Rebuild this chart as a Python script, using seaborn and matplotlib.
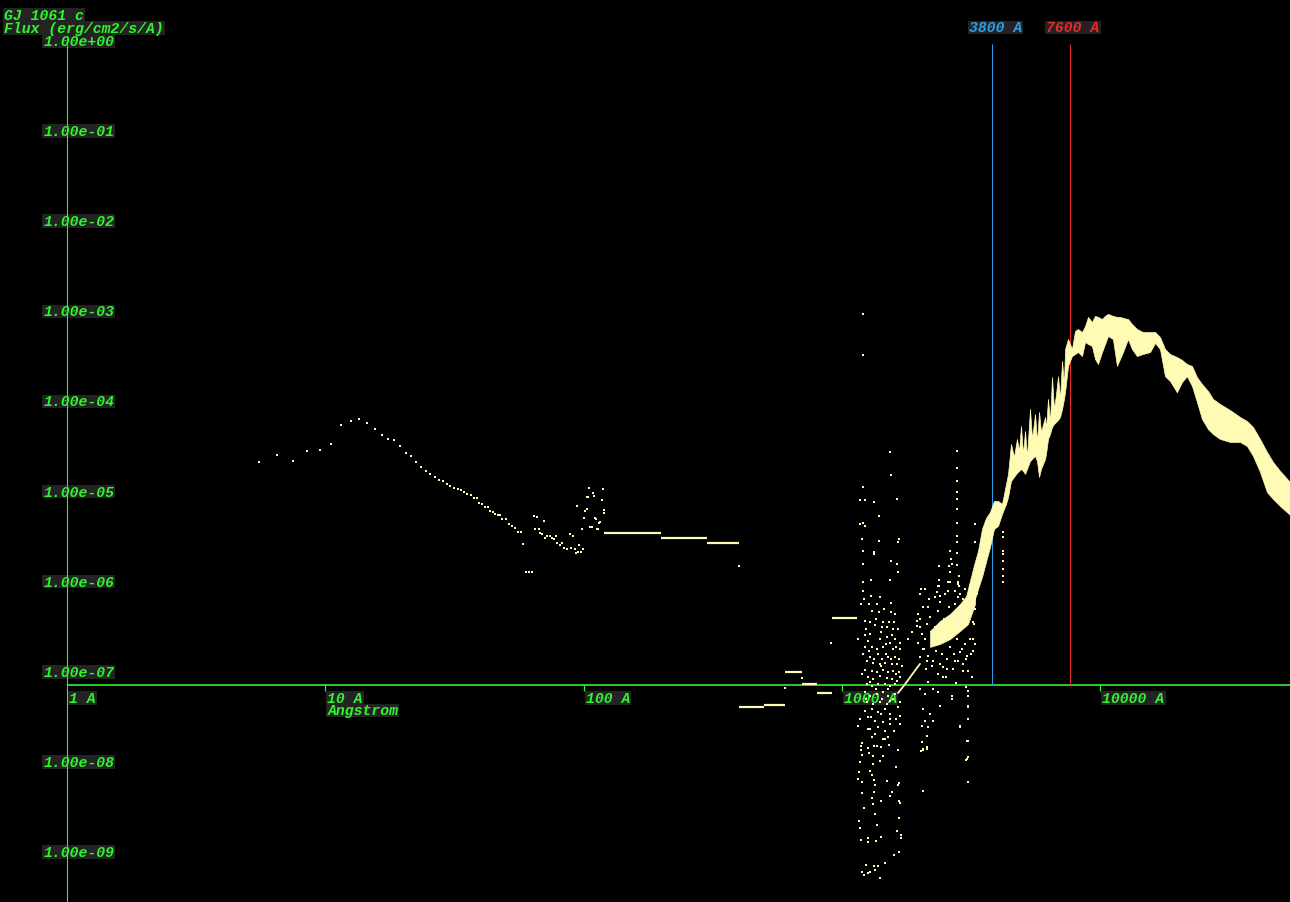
import matplotlib
matplotlib.use('Agg')
import matplotlib.pyplot as plt
from matplotlib.patches import Rectangle
from matplotlib.transforms import IdentityTransform
import seaborn as sns

# ---- data (wavelength in Angstrom, flux in erg/cm2/s/A) ----
xray_wave = [5.54, 6.50, 7.49, 8.49, 9.54, 10.5, 11.5, 12.6, 13.5, 14.5, 15.6, 16.6, 17.5,
             18.4, 19.4, 20.5, 21.5, 22.4, 23.5, 24.5, 25.4, 26.6, 27.5, 28.5, 29.6, 30.4,
             31.5, 32.6, 33.5, 34.4, 35.4, 36.6, 37.6, 38.6, 39.3, 40.4, 41.5, 42.6, 43.4,
             44.6, 45.4, 46.6, 47.5, 48.3, 50.0, 51.4, 52.8, 54.2, 55.7, 57.2, 58.3,
             59.8, 61.4, 63.1]
xray_flux = [2.02e-5, 2.42e-5, 2.07e-5, 2.68e-5, 2.74e-5, 3.20e-5, 5.20e-5, 5.76e-5, 6.06e-5,
             5.47e-5, 4.69e-5, 4.03e-5, 3.64e-5, 3.54e-5, 3.04e-5, 2.54e-5, 2.35e-5, 2.02e-5,
             1.78e-5, 1.60e-5, 1.49e-5, 1.38e-5, 1.27e-5, 1.24e-5, 1.15e-5, 1.09e-5, 1.04e-5,
             1.01e-5, 9.87e-6, 9.38e-6, 8.91e-6, 8.69e-6, 8.05e-6, 8.05e-6, 7.08e-6, 6.90e-6,
             6.40e-6, 6.40e-6, 5.77e-6, 5.63e-6, 5.35e-6, 5.21e-6, 5.21e-6, 4.71e-6, 4.71e-6,
             4.14e-6, 3.94e-6, 3.74e-6, 3.38e-6, 3.38e-6, 2.48e-6, 1.20e-6, 1.20e-6, 1.20e-6]

euv_wave = [64.2, 66.0, 70.2, 64.8, 67.2, 67.8, 69.0, 70.8, 72.1, 74.1, 75.4, 78.2, 76.8,
            78.9, 81.0, 82.5, 83.9, 86.2, 88.5, 90.9, 89.3, 92.6, 93.4, 95.1, 95.9, 97.7,
            99.4, 98.5, 100.3, 101.2, 103.0, 94.2, 103.0, 104.9, 104.0, 108.7, 109.6, 105.8,
            107.7, 110.6, 111.6, 112.6, 113.6, 114.7, 115.7, 117.8, 118.8, 119.9, 119.9]
euv_flux = [5.14e-6, 4.89e-6, 4.42e-6, 3.60e-6, 3.69e-6, 3.25e-6, 3.17e-6, 2.86e-6, 3.08e-6,
            3.08e-6, 2.93e-6, 3.08e-6, 2.79e-6, 2.58e-6, 2.45e-6, 2.52e-6, 2.27e-6, 2.16e-6,
            3.17e-6, 3.01e-6, 2.27e-6, 2.21e-6, 1.95e-6, 2.05e-6, 2.45e-6, 2.05e-6, 2.21e-6,
            3.60e-6, 4.77e-6, 5.70e-6, 6.15e-6, 6.64e-6, 8.15e-6, 1.03e-5, 8.15e-6, 9.03e-6,
            8.36e-6, 3.88e-6, 3.88e-6, 4.77e-6, 4.65e-6, 3.69e-6, 3.60e-6, 4.20e-6, 4.31e-6,
            7.55e-6, 1.00e-5, 5.85e-6, 5.42e-6]

# binned EUV / FUV levels
bin_lo = [120, 200, 300, 400, 500, 600, 700, 800, 912]
bin_hi = [200, 300, 400, 500, 600, 700, 800, 912, 1140]
bin_flux = [3.33e-6, 2.93e-6, 2.58e-6, 3.85e-8, 4.06e-8, 9.31e-8, 6.85e-8, 5.58e-8, 3.70e-7]
bin_dot_wave = [400, 910, 600, 700]
bin_dot_flux = [1.43e-6, 2.00e-7, 6.34e-8, 8.19e-8]

# FUV / NUV scatter, by region
fuv_upper = [
    (1206, 8.9e-4), (1206, 3.1e-4), (1534, 2.6e-5), (1548, 1.45e-5),
    (2788, 2.7e-5), (2788, 1.73e-5), (2788, 1.24e-5), (2788, 9.4e-6), (2788, 7.9e-6),
    (2788, 6.1e-6), (2788, 4.3e-6), (2788, 3.05e-6), (2788, 2.6e-6), (2788, 1.97e-6),
    (2788, 1.45e-6), (1206, 1.07e-5), (1174, 7.7e-6), (1228, 7.7e-6), (1330, 7.3e-6),
    (1633, 7.9e-6), (1391, 5.1e-6), (1174, 4.1e-6), (1206, 4.3e-6), (1228, 3.9e-6),
    (1195, 2.8e-6), (1391, 2.7e-6), (1663, 2.8e-6), (1648, 2.6e-6), (1206, 2.1e-6),
    (1330, 2.0e-6), (1330, 1.9e-6), (1548, 1.6e-6), (1633, 1.5e-6), (1648, 1.2e-6),
    (1206, 1.5e-6), (1206, 9.4e-7), (1295, 9.8e-7), (1534, 9.8e-7), (3273, 4.1e-6),
    (3273, 2.6e-6), (2375, 1.4e-6), (2619, 2.1e-6), (2643, 1.7e-6), (2596, 1.4e-6),
    (2667, 1.5e-6), (2619, 1.2e-6), (2375, 1.0e-6), (2375, 8.5e-7), (2573, 9.5e-7),
    (2838, 1.1e-6), (2812, 9.4e-7), (2838, 8.5e-7),
    (4200, 3.4e-6), (4200, 3.0e-6), (4200, 2.1e-6), (4200, 1.9e-6), (4200, 1.6e-6),
    (4200, 1.3e-6), (4200, 1.1e-6), (4200, 9.4e-7),
]
fuv_cluster_a = [
    (1206, 7.5e-7), (1217, 6.1e-7), (1295, 6.6e-7), (1366, 5.4e-7), (1548, 5.5e-7),
    (1307, 4.5e-7), (1391, 4.4e-7), (1548, 4.4e-7), (1228, 3.5e-7), (1284, 3.4e-7),
    (1441, 3.4e-7), (1521, 3.4e-7), (1590, 3.4e-7), (1342, 3.1e-7), (1428, 3.0e-7),
    (1494, 3.0e-7), (1576, 2.8e-7), (1648, 2.8e-7), (1153, 2.2e-7), (1228, 2.4e-7),
    (1262, 2.1e-7), (1403, 2.2e-7), (1494, 2.3e-7), (1534, 2.0e-7), (1604, 2.2e-7),
    (1677, 2.0e-7), (1228, 1.8e-7), (1307, 1.8e-7), (1366, 1.7e-7), (1441, 1.8e-7),
    (1576, 1.7e-7), (1677, 1.7e-7), (1206, 1.5e-7), (1284, 1.4e-7), (1379, 1.5e-7),
    (1428, 1.3e-7), (1507, 1.4e-7), (1604, 1.4e-7), (1663, 1.3e-7), (1250, 1.25e-7),
    (1318, 1.2e-7), (1403, 1.16e-7), (1467, 1.2e-7), (1562, 1.16e-7), (1633, 1.16e-7),
    (1708, 1.1e-7), (1228, 1.0e-7), (1307, 9.7e-8), (1366, 9.5e-8), (1441, 1.0e-7),
    (1507, 9.5e-8), (1576, 9.7e-8), (1663, 9.5e-8), (1262, 8.3e-8), (1318, 7.9e-8),
    (1403, 8.5e-8), (1494, 8.1e-8), (1562, 7.9e-8), (1633, 7.5e-8), (1677, 8.3e-8),
    (1250, 6.9e-8), (1307, 6.6e-8), (1379, 6.9e-8), (1467, 6.9e-8), (1534, 6.6e-8),
    (1604, 6.9e-8), (1228, 5.7e-8), (1284, 5.1e-8), (1366, 5.4e-8), (1441, 5.7e-8),
    (1507, 5.1e-8), (1604, 5.4e-8), (1250, 4.4e-8), (1318, 4.2e-8), (1403, 4.4e-8),
    (1534, 4.5e-8), (1677, 4.4e-8), (1228, 3.5e-8), (1307, 3.7e-8), (1379, 3.4e-8),
    (1467, 3.7e-8), (1534, 3.2e-8), (1677, 3.1e-8), (1174, 2.8e-8), (1262, 3.0e-8),
    (1342, 2.7e-8), (1441, 2.6e-8), (1534, 2.8e-8), (1153, 2.4e-8), (1284, 2.2e-8),
    (1379, 2.3e-8), (1467, 2.1e-8), (1534, 2.5e-8), (1677, 2.5e-8), (1307, 1.8e-8),
    (1507, 1.8e-8),
    (1239, 2.83e-7), (1284, 2.49e-7), (1354, 3.65e-7), (1416, 2.62e-7), (1480, 1.93e-7),
    (1562, 2.43e-7), (1619, 1.79e-7), (1273, 1.62e-7), (1330, 1.32e-7), (1416, 1.10e-7),
    (1480, 1.50e-7), (1548, 1.32e-7), (1619, 8.98e-8), (1195, 8.98e-8), (1284, 7.30e-8),
    (1354, 6.11e-8), (1428, 4.73e-8), (1507, 6.11e-8), (1576, 4.73e-8), (1648, 3.85e-8),
    (1239, 4.73e-8), (1295, 2.99e-8), (1416, 3.22e-8), (1494, 4.16e-8), (1619, 2.84e-8),
    (1262, 2.20e-8), (1342, 1.94e-8), (1441, 1.70e-8), (1590, 2.09e-8), (1184, 5.36e-7),
    (1273, 5.36e-7), (1454, 4.72e-7), (1604, 4.15e-7), (1403, 6.41e-7),
]
fuv_low_tail = [
    (1195, 1.53e-8), (1184, 1.42e-8), (1184, 1.29e-8), (1195, 1.13e-8), (1174, 9.5e-9),
    (1163, 7.3e-9), (1153, 6.1e-9), (1195, 5.7e-9), (1195, 4.3e-9), (1217, 2.9e-9),
    (1163, 2.1e-9), (1174, 1.75e-9), (1184, 1.29e-9), (1239, 6.8e-10), (1195, 5.7e-10),
    (1217, 5.3e-10), (1262, 5.5e-10), (1284, 5.7e-10), (1262, 1.35e-8), (1330, 1.42e-8),
    (1366, 1.42e-8), (1416, 1.39e-8), (1273, 1.19e-8), (1318, 1.10e-8), (1441, 1.10e-8),
    (1403, 9.7e-9), (1318, 9.0e-9), (1284, 7.5e-9), (1307, 6.8e-9), (1330, 6.0e-9),
    (1342, 5.3e-9), (1494, 5.8e-9), (1330, 4.4e-9), (1307, 3.8e-9), (1318, 3.2e-9),
    (1416, 3.5e-9), (1342, 2.5e-9), (1366, 1.9e-9), (1262, 1.36e-9), (1262, 1.22e-9),
    (1354, 1.26e-9), (1416, 1.39e-9), (1330, 6.6e-10), (1379, 6.6e-10), (1342, 6.0e-10),
    (1403, 4.9e-10), (1467, 7.2e-10), (1590, 8.8e-10), (1663, 9.5e-10), (1633, 1.62e-9),
    (1692, 1.47e-9), (1692, 1.36e-9), (1663, 2.26e-9), (1663, 3.5e-9), (1677, 3.3e-9),
    (1534, 4.0e-9), (1562, 4.4e-9), (1648, 5.3e-9), (1663, 5.5e-9), (1619, 8.4e-9),
    (1648, 1.29e-8), (1521, 1.46e-8), (1467, 1.70e-8), (2040, 1.57e-8), (2022, 1.25e-8),
    (2059, 1.29e-8), (2134, 1.32e-8), (2059, 4.5e-9), (3075, 1.62e-8), (3075, 1.08e-8),
    (3020, 1.0e-8), (3075, 5.7e-9),
]
fuv_cluster_b = [
    (2004, 6.9e-7), (2022, 7.9e-7), (2331, 7.3e-7), (2573, 7.5e-7), (2812, 6.4e-7),
    (2396, 5.6e-7), (2153, 5.0e-7), (2004, 3.65e-7), (1866, 2.6e-7), (1801, 2.2e-7),
    (1970, 2.0e-7), (2059, 1.7e-7), (2004, 1.39e-7), (2134, 1.25e-7), (2230, 1.10e-7),
    (2396, 1.16e-7), (2550, 1.02e-7), (2739, 1.25e-7), (2941, 1.16e-7), (3075, 9.7e-8),
    (3187, 8.3e-8), (2461, 8.3e-8), (2153, 7.3e-8), (2250, 6.1e-8), (2667, 5.1e-8),
    (2667, 4.7e-8), (3075, 5.1e-8), (3075, 3.85e-8), (2396, 4.0e-8), (2191, 3.2e-8),
    (2250, 2.7e-8), (2863, 2.3e-8), (3075, 2.8e-8), (2096, 2.7e-8), (2153, 2.3e-8),
    (1952, 3.5e-7), (1952, 3.05e-7), (3333, 6.9e-7), (3273, 4.7e-7), (3214, 3.4e-7),
    (3214, 2.2e-7), (3214, 1.62e-7), (3048, 1.42e-7), (2863, 1.57e-7), (2004, 6.1e-8),
    (2096, 5.4e-8), (2352, 5.7e-8), (2059, 3.7e-8), (2040, 2.4e-8), (2134, 1.84e-8),
    (2059, 1.32e-8), (2134, 1.39e-8), (2863, 2.4e-8), (3048, 1.62e-8), (3048, 1.02e-8),
    (3075, 5.8e-8), (3075, 3.96e-8), (2096, 7.9e-7), (2352, 8.5e-7), (2396, 6.6e-7),
    (2619, 9.5e-7), (2812, 9.0e-7), (2863, 6.9e-7), (3048, 6.1e-7), (3130, 8.5e-7),
    (3421, 1.02e-6),
    (2004, 2.98e-7), (2040, 2.49e-7), (2096, 2.19e-7), (2134, 3.21e-7), (2191, 3.85e-7),
    (2230, 1.93e-7), (2291, 2.98e-7), (2311, 1.62e-7), (2352, 4.48e-7), (2396, 2.31e-7),
    (2439, 1.50e-7), (2483, 3.65e-7), (2505, 2.69e-7), (2550, 1.32e-7), (2596, 4.97e-7),
    (2619, 1.79e-7), (2667, 3.21e-7), (2715, 1.50e-7), (2739, 5.36e-7), (2788, 2.19e-7),
    (2812, 1.25e-7), (2863, 4.15e-7), (2915, 1.70e-7), (2941, 6.09e-7), (2994, 1.93e-7),
    (3020, 1.32e-7), (3075, 4.72e-7), (3130, 2.19e-7), (3158, 1.50e-7), (3187, 6.09e-7),
    (3243, 3.21e-7), (3273, 1.93e-7), (2077, 1.70e-7), (2153, 1.42e-7), (2250, 1.25e-7),
    (2461, 1.08e-7), (2691, 1.02e-7), (2941, 9.69e-8), (1970, 4.15e-7), (2059, 4.97e-7),
    (2172, 6.09e-7), (2291, 6.41e-7), (2505, 6.93e-7), (2739, 7.48e-7), (2994, 7.87e-7),
    (2115, 1.02e-7), (2527, 8.31e-8), (2763, 7.11e-8), (3020, 6.42e-8), (2352, 8.98e-8),
]
fuv_streak_wave = [1648, 1754, 1866, 2004]
fuv_streak_flux = [5.5e-8, 6.9e-8, 8.8e-8, 1.16e-7]

# dense spine of the NUV cloud: (wave, low, high)
nuv_core = [
    (2191, 1.79e-7, 2.69e-7), (2396, 1.93e-7, 3.47e-7), (2619, 2.19e-7, 4.15e-7),
    (2863, 2.69e-7, 5.36e-7), (3075, 3.21e-7, 6.93e-7), (3273, 5.36e-7, 9.45e-7),
]

# optical / IR photosphere band: (wave, low, high)
optical_band = [
    (2810, 3.21e-7, 4.48e-7), (2915, 3.47e-7, 5.36e-7), (3020, 3.65e-7, 6.42e-7),
    (3130, 4.15e-7, 9.69e-7), (3243, 5.64e-7, 1.45e-6), (3362, 7.87e-7, 2.08e-6),
    (3483, 1.07e-6, 3.65e-6), (3609, 1.57e-6, 4.83e-6), (3741, 2.30e-6, 5.63e-6),
    (3876, 3.65e-6, 7.46e-6), (4018, 3.94e-6, 7.46e-6), (4164, 5.35e-6, 6.91e-6),
    (4315, 6.91e-6, 1.15e-5), (4393, 8.23e-6, 1.49e-5), (4511, 1.24e-5, 3.20e-5),
    (4632, 1.38e-5, 2.30e-5), (4757, 1.53e-5, 3.64e-5), (4847, 1.61e-5, 2.68e-5),
    (4932, 1.69e-5, 5.07e-5), (5020, 1.61e-5, 2.48e-5), (5113, 1.49e-5, 4.46e-5),
    (5201, 1.69e-5, 2.30e-5), (5344, 2.07e-5, 7.82e-5), (5440, 2.18e-5, 3.64e-5),
    (5590, 2.36e-5, 6.88e-5), (5686, 2.07e-5, 3.37e-5), (5793, 1.38e-5, 7.24e-5),
    (5894, 1.69e-5, 4.34e-5), (6111, 2.18e-5, 6.38e-5), (6163, 2.48e-5, 4.69e-5),
    (6274, 3.64e-5, 1.01e-4), (6387, 4.13e-5, 5.61e-5), (6502, 4.94e-5, 1.77e-4),
    (6617, 5.33e-5, 7.82e-5), (6738, 5.61e-5, 1.14e-4), (6860, 5.91e-5, 1.81e-4),
    (6983, 6.38e-5, 1.01e-4), (7109, 7.82e-5, 2.67e-4), (7234, 1.01e-4, 1.48e-4),
    (7304, 1.20e-4, 3.62e-4), (7500, 2.35e-4, 4.68e-4), (7768, 3.03e-4, 3.62e-4),
    (7982, 3.19e-4, 5.74e-4), (8196, 3.35e-4, 6.04e-4), (8496, 3.03e-4, 5.59e-4),
    (8730, 4.34e-4, 6.52e-4), (8964, 4.12e-4, 8.23e-4), (9284, 3.91e-4, 7.22e-4),
    (9540, 2.81e-4, 8.45e-4), (9795, 2.47e-4, 8.23e-4), (10150, 3.35e-4, 7.80e-4),
    (10430, 4.12e-4, 8.45e-4), (10710, 5.05e-4, 8.89e-4), (11190, 4.68e-4, 8.45e-4),
    (11600, 2.35e-4, 8.23e-4), (11920, 2.81e-4, 8.23e-4), (12240, 3.35e-4, 8.03e-4),
    (12800, 4.68e-4, 7.80e-4), (13260, 3.62e-4, 6.87e-4), (13860, 3.03e-4, 6.04e-4),
    (14620, 3.19e-4, 5.59e-4), (15570, 3.35e-4, 5.59e-4), (16290, 4.23e-4, 5.59e-4),
    (17020, 3.62e-4, 4.92e-4), (17800, 1.81e-4, 3.62e-4), (18610, 1.60e-4, 3.19e-4),
    (19800, 1.20e-4, 2.95e-4), (20710, 1.56e-4, 2.74e-4), (21640, 1.81e-4, 2.47e-4),
    (22640, 1.41e-4, 2.35e-4), (23660, 9.36e-5, 1.77e-4), (24750, 6.06e-5, 1.48e-4),
    (26110, 4.69e-5, 1.24e-4), (27300, 4.13e-5, 1.01e-4), (29060, 3.64e-5, 8.89e-5),
    (31770, 3.37e-5, 7.62e-5), (34730, 3.37e-5, 6.38e-5), (36950, 3.04e-5, 5.76e-5),
    (38990, 2.36e-5, 4.94e-5), (41500, 1.57e-5, 3.64e-5), (44160, 9.36e-6, 2.61e-5),
    (46610, 7.85e-6, 2.02e-5), (49610, 6.57e-6, 1.61e-5), (54240, 5.22e-6, 1.21e-5),
]

ref_wave = [3800, 7600]
ref_labels = ['3800 A', '7600 A']
ref_colors = ['#2a9fe6', '#e62a2a']

xtick_wave = [1, 10, 100, 1000, 10000]
xtick_labels = ['1 A', '10 A', '100 A', '1000 A', '10000 A']
ytick_exp = [0, 1, 2, 3, 4, 5, 6, 7, 8, 9]

title_lines = ['GJ 1061 c', 'Flux (erg/cm2/s/A)']

# ---- style ----
DATA = '#fffab4'
GREEN = '#33f033'
TXT = '#2ef52e'
BOXC = '#232323'
sns.set_style('dark')
plt.rcParams['font.family'] = ['Liberation Mono', 'DejaVu Sans Mono']
font = dict(weight='bold', style='italic', size=10.6)

fig = plt.figure(figsize=(12.9, 9.03), dpi=100)
fig.patch.set_facecolor('black')
ax = fig.add_axes([0, 0, 1, 1])
ax.patch.set_visible(False)
ax.set_xscale('log')
ax.set_yscale('log')
ax.set_xlim(0.5504, 54240)
ax.set_ylim(2.64e-10, 2.779)
for s in ax.spines.values():
    s.set_visible(False)
ax.set_xticks([])
ax.set_yticks([])
ax.minorticks_off()

axis_flux = 6.76e-8   # where the horizontal axis sits
line_top = 0.88

# labels first, so the data is drawn over them
labels = []
for k in ytick_exp:
    v = 10.0 ** -k
    labels.append(ax.annotate(f'{v:.2e}', xy=(0.81, v), xytext=(0, -1.5),
                              textcoords='offset points', ha='left', va='center',
                              color=TXT, zorder=0.6, **font))
for w, lab in zip(xtick_wave, xtick_labels):
    labels.append(ax.annotate(lab, xy=(w, axis_flux), xytext=(1.5, -9.5),
                              textcoords='offset points', ha='left', va='center',
                              color=TXT, zorder=0.6, **font))
labels.append(ax.annotate('Angstrom', xy=(10, axis_flux), xytext=(1.5, -18.3),
                          textcoords='offset points', ha='left', va='center',
                          color=TXT, zorder=0.6, **font))
for w, lab, c in zip(ref_wave, ref_labels, ref_colors):
    labels.append(ax.annotate(lab, xy=(w, line_top), xytext=(2.5, 12),
                              textcoords='offset points', ha='center', va='center',
                              color=c, zorder=0.6, **font))
for i, t in enumerate(title_lines):
    labels.append(fig.text(4 / 1290, 1 - (15.5 + 13.2 * i) / 903, t, ha='left',
                           va='center', color=TXT, zorder=5, **font))

# axes
ax.hlines(axis_flux, 1, 54240, color=GREEN, lw=1.2, zorder=1)
ax.vlines(1, 2.64e-10, line_top, color=GREEN, lw=0.8, zorder=1)
ax.vlines(xtick_wave[1:], 5.8e-8, axis_flux, color=GREEN, lw=0.9, zorder=1)
for w, c in zip(ref_wave, ref_colors):
    ax.vlines(w, axis_flux, line_top, color=c, lw=0.75, zorder=1)

# data
ob_w, ob_lo, ob_hi = zip(*optical_band)
ax.fill_between(ob_w, ob_lo, ob_hi, color=DATA, lw=0.5, zorder=3)
nc_w, nc_lo, nc_hi = zip(*nuv_core)
ax.fill_between(nc_w, nc_lo, nc_hi, color=DATA, lw=0.5, zorder=3)

ax.hlines(bin_flux, bin_lo, bin_hi, color=DATA, lw=1.6, zorder=3)
ax.plot(fuv_streak_wave, fuv_streak_flux, color=DATA, lw=1.3, zorder=3)

pts = dict(color=DATA, marker='s', s=4.2, linewidth=0, legend=False, ax=ax, zorder=4)
sns.scatterplot(x=xray_wave, y=xray_flux, **pts)
sns.scatterplot(x=euv_wave, y=euv_flux, **pts)
sns.scatterplot(x=bin_dot_wave, y=bin_dot_flux, **pts)
for group in [fuv_upper, fuv_cluster_a, fuv_low_tail, fuv_cluster_b]:
    gw, gf = zip(*group)
    sns.scatterplot(x=list(gw), y=list(gf), **pts)
ax.set_xlabel('')
ax.set_ylabel('')

# dark label boxes, fixed height like the original
fig.canvas.draw()
renderer = fig.canvas.get_renderer()
for t in labels:
    bb = t.get_window_extent(renderer)
    cy = (bb.y0 + bb.y1) / 2
    rect = Rectangle((bb.x0 - 1, cy - 6.8), bb.width + 2, 13.6, transform=IdentityTransform(),
                     fc=BOXC, ec='none', zorder=0.5, clip_on=False)
    if t.axes is None:
        rect.set_zorder(4)
        fig.add_artist(rect)
    else:
        ax.add_patch(rect)

fig.savefig('out.png', dpi=100, facecolor='black')
